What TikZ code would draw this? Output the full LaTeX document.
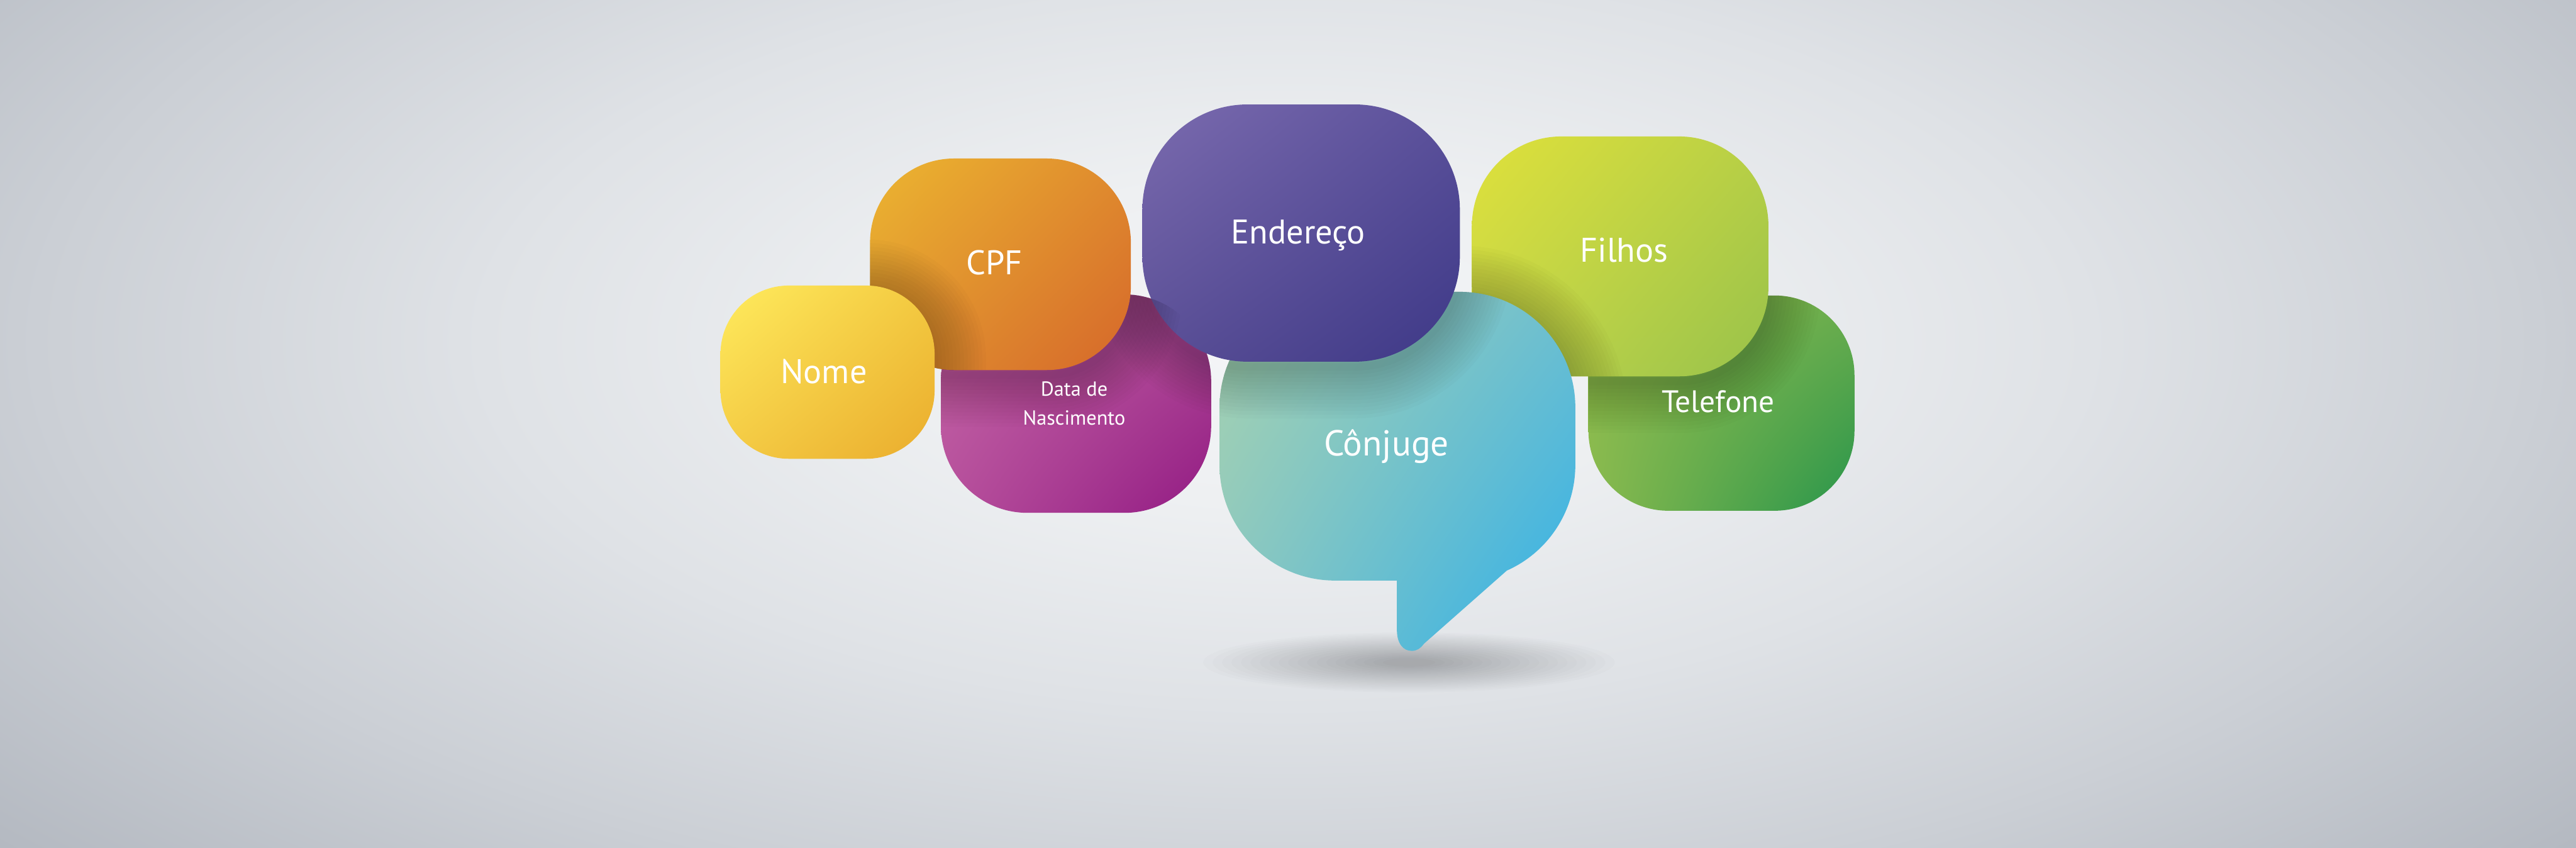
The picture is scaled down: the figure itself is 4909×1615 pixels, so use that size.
\documentclass[tikz,border=0pt]{standalone}
\usepackage{fontspec}
\setmainfont{PT Sans}
\usetikzlibrary{shadings}
\definecolor{bgA}{HTML}{F4F5F7}
\definecolor{bgB}{HTML}{EEF0F2}
\definecolor{bgC}{HTML}{DFE2E6}
\definecolor{bgD}{HTML}{CBCFD5}
\definecolor{bgE}{HTML}{B4B9C1}
\pgfdeclareradialshading{bgshade}{\pgfpoint{0bp}{0bp}}{color(0bp)=(bgA); color(5bp)=(bgB); color(11.25bp)=(bgC); color(17.5bp)=(bgD); color(23.75bp)=(bgE); color(25bp)=(bgE); color(50bp)=(bgE)}
% box colours
\definecolor{nomeUL}{HTML}{FFEC5E}\definecolor{nomeUR}{HTML}{F3C940}
\definecolor{nomeLL}{HTML}{F4CB44}\definecolor{nomeLR}{HTML}{EAAC2D}
\definecolor{cpfUL}{HTML}{ECB630}\definecolor{cpfUR}{HTML}{DF8A2E}
\definecolor{cpfLL}{HTML}{E09330}\definecolor{cpfLR}{HTML}{D6672A}
\definecolor{dataUL}{HTML}{C466A6}\definecolor{dataUR}{HTML}{B04B97}
\definecolor{dataLL}{HTML}{B7509C}\definecolor{dataLR}{HTML}{921A83}
\definecolor{endUL}{HTML}{7B6BAF}\definecolor{endUR}{HTML}{5A509A}
\definecolor{endLL}{HTML}{5A4F96}\definecolor{endLR}{HTML}{3D3887}
\definecolor{conUL}{HTML}{A8D3AF}\definecolor{conUR}{HTML}{6FBFCF}
\definecolor{conLL}{HTML}{88C6C2}\definecolor{conLR}{HTML}{2EB0EA}
\definecolor{filUL}{HTML}{E0E13A}\definecolor{filUR}{HTML}{B7CF46}
\definecolor{filLL}{HTML}{C4D64A}\definecolor{filLR}{HTML}{98C24A}
\definecolor{telUL}{HTML}{8DBC4F}\definecolor{telUR}{HTML}{6EAE4D}
\definecolor{telLL}{HTML}{8ABA4E}\definecolor{telLR}{HTML}{27954B}
% paths
\def\pNome{(1373,544) rectangle (1781,874)}
\def\pCpf{(1658,302) rectangle (2155,705)}
\def\pData{(1793,561) rectangle (2308,977)}
\def\pEnd{(2177,199) rectangle (2782,689)}
\def\pFil{(2805,260) rectangle (3370,717)}
\def\pTel{(3027,563) rectangle (3534,973)}
\def\pCon{(2544,556) -- (2782,556) .. controls (2903.5,556) and (3002,654.5) .. (3002,776) -- (3002,886) .. controls (3002,972.9) and (2950.9,1051.7) .. (2871.5,1087) -- (2714,1226) .. controls (2706,1236) and (2700,1240) .. (2690,1240) .. controls (2674,1240) and (2662,1226) .. (2662,1200) -- (2662,1106) -- (2544,1106) .. controls (2422.5,1106) and (2324,1007.5) .. (2324,886) -- (2324,776) .. controls (2324,654.5) and (2422.5,556) .. (2544,556) -- cycle}
\tikzset{
  rNome/.style={rounded corners=1.3cm},
  rCpf/.style={rounded corners=1.6cm},
  rData/.style={rounded corners=1.65cm},
  rEnd/.style={rounded corners=2.0cm},
  rFil/.style={rounded corners=1.7cm},
  rTel/.style={rounded corners=1.52cm},
  rCon/.style={},
  lbl/.style={text=white, inner sep=0pt, anchor=base},
  big/.style={lbl, font=\fontsize{18.5}{22}\selectfont},
}
\newcommand\castshadow[4]{%
  \begin{scope}
    \clip[#1] #2;
    \foreach \w in {1,...,14}{\draw[#3, black, opacity=0.016, line width=0.14cm*\w, yshift=-0.1cm] #4;}
  \end{scope}}
\begin{document}
\begin{tikzpicture}[x=0.01cm,y=-0.01cm]
\useasboundingbox (0,0) rectangle (4909,1615);
% background
\begin{scope}
  \clip (0,0) rectangle (4909,1615);
  \shade[shading=bgshade] (2450,650) ellipse [x radius=34cm, y radius=15.5cm];
\end{scope}
% shadow below the speech bubble
\foreach \i in {1,...,20}{
  \fill[black, opacity=0.013] (2685,1262) ellipse [x radius={4.1cm-0.18cm*\i}, y radius={0.6cm-0.026cm*\i}];
}
% Telefone
\shade[rTel, upper left=telUL, upper right=telUR, lower left=telLL, lower right=telLR] \pTel;
% Filhos
\castshadow{rTel}{\pTel}{rFil}{\pFil}
\shade[rFil, upper left=filUL, upper right=filUR, lower left=filLL, lower right=filLR] \pFil;
% Conjuge
\castshadow{rFil}{\pFil}{rCon}{\pCon}
\shade[upper left=conUL, upper right=conUR, lower left=conLL, lower right=conLR] \pCon;
% Data de Nascimento
\shade[rData, upper left=dataUL, upper right=dataUR, lower left=dataLL, lower right=dataLR] \pData;
% Endereco
\castshadow{rCon}{\pCon}{rEnd}{\pEnd}
\castshadow{rData}{\pData}{rEnd}{\pEnd}
\shade[rEnd, upper left=endUL, upper right=endUR, lower left=endLL, lower right=endLR] \pEnd;
% CPF
\castshadow{rData}{\pData}{rCpf}{\pCpf}
\shade[rCpf, upper left=cpfUL, upper right=cpfUR, lower left=cpfLL, lower right=cpfLR] \pCpf;
% Nome
\castshadow{rCpf}{\pCpf}{rNome}{\pNome}
\shade[rNome, upper left=nomeUL, upper right=nomeUR, lower left=nomeLL, lower right=nomeLR] \pNome;
% labels
\node[big] (tNome) at (1570,731) {Nome};
\node[big] (tCpf) at (1895,523) {CPF};
\node[big] (tEnd) at (2474,465) {Endereço};
\node[big] (tFil) at (3095,499) {Filhos};
\node[lbl, font=\fontsize{16.8}{20}\selectfont] (tTel) at (3274,785) {Telefone};
\node[lbl, font=\fontsize{19.5}{23}\selectfont] (tCon) at (2642,868) {Cônjuge};
\node[lbl, font=\fontsize{11}{14.5}\selectfont, align=center] (tData) at (2047,810) {Data de\\[1.3pt]Nascimento};
\end{tikzpicture}
\end{document}
